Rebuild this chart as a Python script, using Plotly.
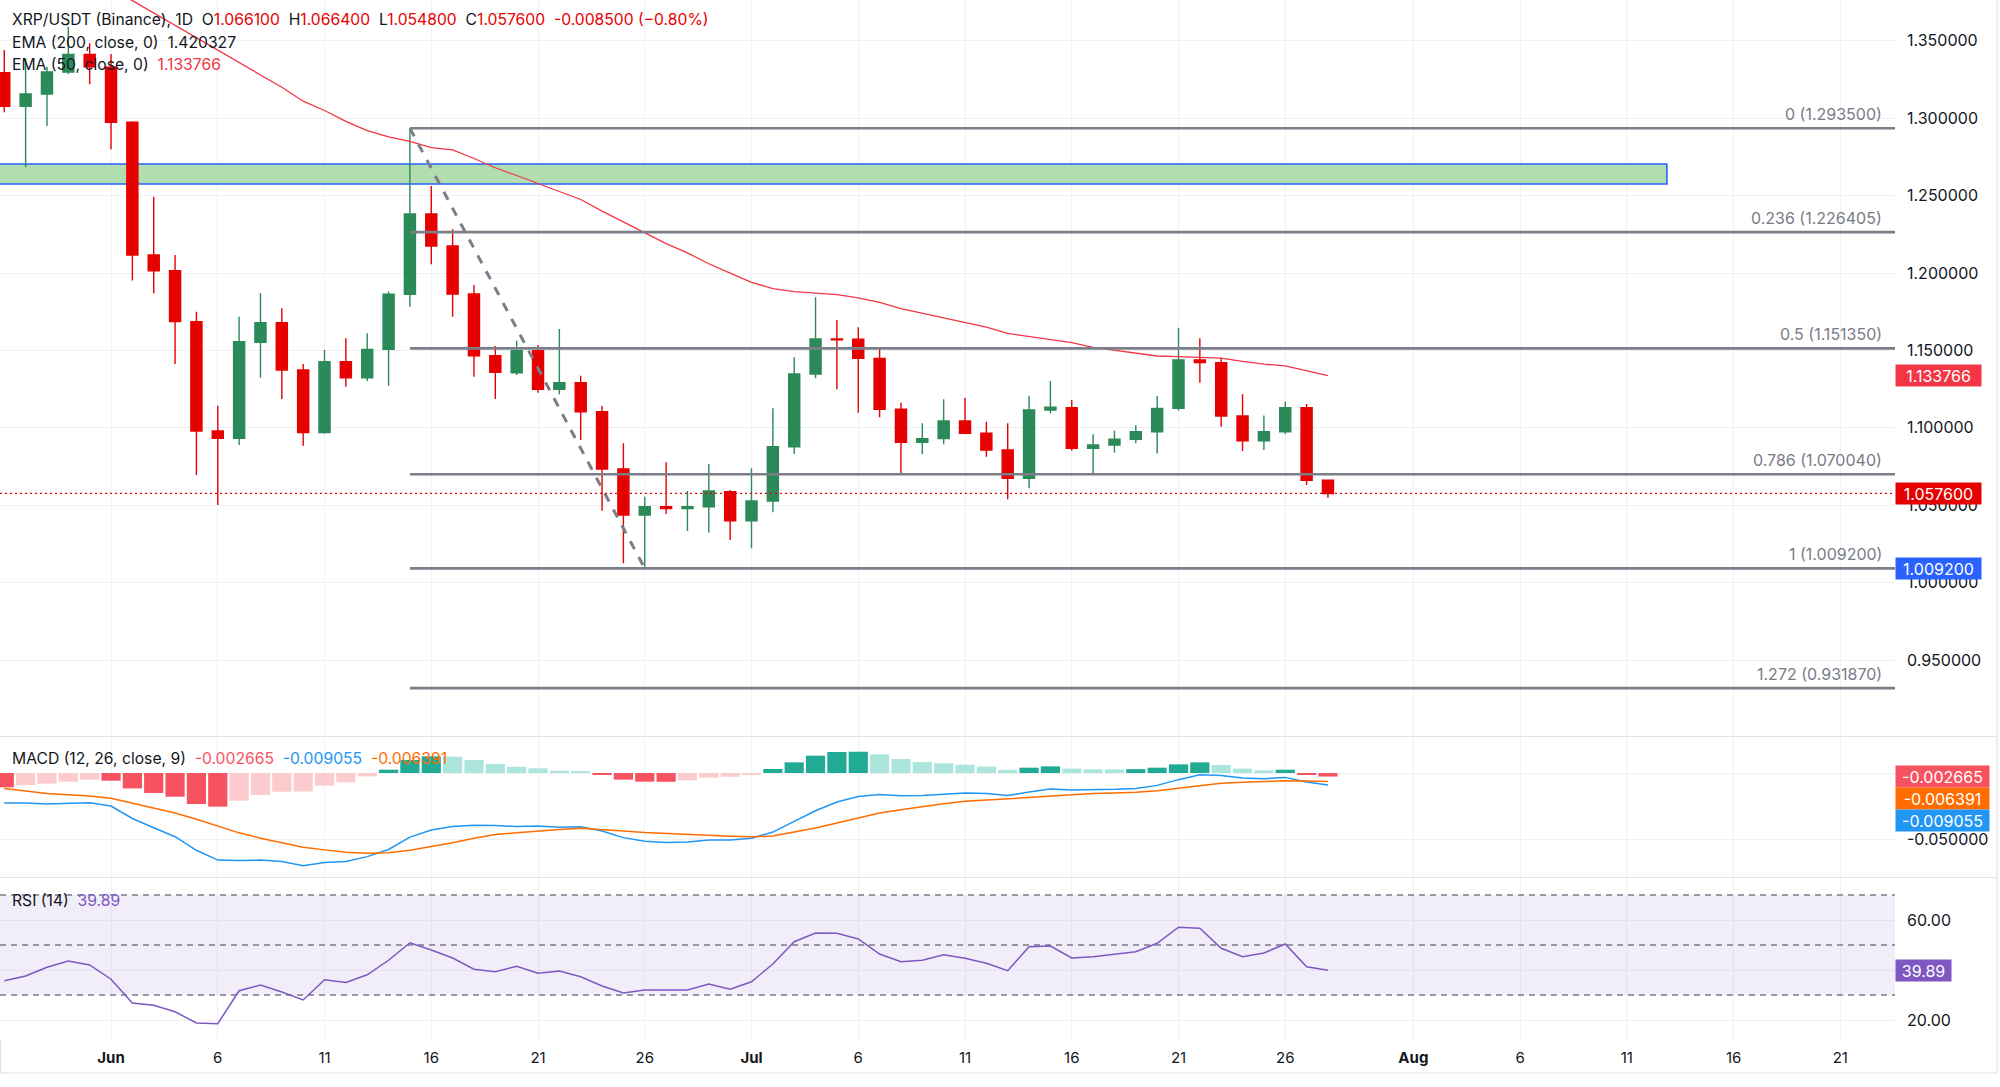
import pandas as pd
import plotly.graph_objects as go
from plotly.subplots import make_subplots

W, H = 2000, 1087

# ---------------- data ----------------
DATES = pd.date_range("2024-05-27", "2024-07-28", freq="D")

OPEN = [1.3294, 1.3077, 1.3157, 1.3299, 1.3412, 1.3329, 1.2974, 1.2117, 1.2015, 1.1686,
        1.0980, 1.0932, 1.1553, 1.1679, 1.1374, 1.0969, 1.1427, 1.1324, 1.1507, 1.1863,
        1.2381, 1.2175, 1.1865, 1.1466, 1.1356, 1.1498, 1.1249, 1.1292, 1.1104, 1.0734,
        1.0437, 1.0491, 1.0478, 1.0490, 1.0588, 1.0400, 1.0527, 1.0878, 1.1348, 1.1574,
        1.1572, 1.1449, 1.1120, 1.0907, 1.0930, 1.1044, 1.0965, 1.0857, 1.0674, 1.1115,
        1.1130, 1.0868, 1.0889, 1.0926, 1.0975, 1.1126, 1.1438, 1.1421, 1.1076, 1.0917,
        1.0975, 1.1130, 1.0661]
HIGH = [1.3441, 1.3387, 1.3333, 1.3591, 1.3484, 1.3415, 1.2980, 1.2493, 1.2117, 1.1750,
        1.1143, 1.1718, 1.1869, 1.1772, 1.1412, 1.1503, 1.1578, 1.1611, 1.1880, 1.2935,
        1.2562, 1.2283, 1.1923, 1.1529, 1.1563, 1.1535, 1.1638, 1.1337, 1.1141, 1.0900,
        1.0555, 1.0777, 1.0592, 1.0767, 1.0598, 1.0739, 1.1126, 1.1456, 1.1843, 1.1697,
        1.1649, 1.1514, 1.1162, 1.1029, 1.1184, 1.1195, 1.1040, 1.1029, 1.1208, 1.1303,
        1.1180, 1.0958, 1.0982, 1.1016, 1.1206, 1.1647, 1.1578, 1.1453, 1.1217, 1.1080,
        1.1169, 1.1154, 1.0664]
LOW = [1.3038, 1.2683, 1.2950, 1.3285, 1.3219, 1.2799, 1.1951, 1.1869, 1.1412, 1.0695,
       1.0502, 1.0889, 1.1324, 1.1186, 1.0885, 1.0962, 1.1266, 1.1303, 1.1272, 1.1783,
       1.2056, 1.1718, 1.1330, 1.1186, 1.1341, 1.1227, 1.1217, 1.0921, 1.0465, 1.0125,
       1.0092, 1.0443, 1.0334, 1.0323, 1.0276, 1.0222, 1.0454, 1.0831, 1.1320, 1.1249,
       1.1098, 1.1068, 1.0695, 1.0829, 1.0894, 1.0963, 1.0814, 1.0538, 1.0609, 1.1093,
       1.0852, 1.0702, 1.0839, 1.0900, 1.0835, 1.1111, 1.1292, 1.1007, 1.0851, 1.0857,
       1.0958, 1.0631, 1.0548]
CLOSE = [1.3077, 1.3157, 1.3299, 1.3412, 1.3333, 1.2974, 1.2117, 1.2015, 1.1686, 1.0980,
         1.0932, 1.1556, 1.1679, 1.1374, 1.0969, 1.1427, 1.1324, 1.1507, 1.1863, 1.2381,
         1.2175, 1.1865, 1.1466, 1.1359, 1.1498, 1.1249, 1.1292, 1.1104, 1.0734, 1.0437,
         1.0491, 1.0478, 1.0490, 1.0592, 1.0400, 1.0527, 1.0878, 1.1348, 1.1574, 1.1568,
         1.1449, 1.1120, 1.0907, 1.0930, 1.1044, 1.0965, 1.0857, 1.0674, 1.1115, 1.1133,
         1.0868, 1.0889, 1.0926, 1.0975, 1.1126, 1.1438, 1.1421, 1.1076, 1.0917, 1.0975,
         1.1130, 1.0661, 1.0576]

EMA50 = [1.395, 1.393, 1.390, 1.388, 1.386, 1.3836, 1.376, 1.368, 1.360, 1.352,
         1.344, 1.336, 1.328, 1.320, 1.311, 1.305, 1.298, 1.292, 1.288, 1.285,
         1.281, 1.2795, 1.274, 1.268, 1.263, 1.258, 1.253, 1.2475, 1.240, 1.233,
         1.226, 1.219, 1.213, 1.206, 1.200, 1.194, 1.190, 1.188, 1.187, 1.186,
         1.184, 1.181, 1.177, 1.174, 1.171, 1.168, 1.165, 1.161, 1.159, 1.157,
         1.155, 1.152, 1.150, 1.148, 1.1464, 1.146, 1.1457, 1.145, 1.143, 1.1412,
         1.140, 1.137, 1.133766]
EMA200_LAST = 1.420327

MACD_HIST = [-0.0108, -0.0090, -0.0080, -0.0065, -0.0050, -0.0058, -0.0116, -0.0150, -0.0178, -0.0233,
             -0.0253, -0.0208, -0.0165, -0.0141, -0.0139, -0.0095, -0.0070, -0.0025, 0.0025, 0.0098,
             0.0125, 0.0123, 0.0098, 0.0068, 0.0047, 0.0035, 0.0017, 0.0012, -0.0012, -0.0050,
             -0.0065, -0.0066, -0.0055, -0.0035, -0.0028, -0.0011, 0.0030, 0.0080, 0.0130, 0.0158,
             0.0160, 0.0140, 0.0105, 0.0082, 0.0073, 0.0063, 0.0048, 0.0023, 0.0040, 0.0050,
             0.0033, 0.0028, 0.0027, 0.0029, 0.0040, 0.0065, 0.0080, 0.0060, 0.0033, 0.0020,
             0.0025, -0.0008, -0.002665]
MACD_LINE = [-0.0225, -0.0226, -0.0234, -0.0228, -0.0223, -0.0248, -0.0342, -0.0412, -0.0479, -0.0581,
             -0.0655, -0.0658, -0.0655, -0.0666, -0.0697, -0.0673, -0.0665, -0.0629, -0.0575, -0.0482,
             -0.0428, -0.0402, -0.0393, -0.0395, -0.0402, -0.0399, -0.0407, -0.0404, -0.0436, -0.0486,
             -0.0513, -0.0522, -0.0518, -0.0504, -0.0503, -0.0490, -0.0444, -0.0364, -0.0284, -0.0218,
             -0.0176, -0.0161, -0.0171, -0.0169, -0.0158, -0.0150, -0.0155, -0.0170, -0.0143, -0.0120,
             -0.0127, -0.0127, -0.0123, -0.0116, -0.0093, -0.0050, -0.0013, -0.0018, -0.0037, -0.0043,
             -0.0033, -0.0068, -0.009055]
MACD_SIGNAL = [-0.0117, -0.0136, -0.0154, -0.0163, -0.0173, -0.0190, -0.0226, -0.0262, -0.0301, -0.0348,
               -0.0402, -0.0450, -0.0490, -0.0525, -0.0558, -0.0578, -0.0595, -0.0604, -0.0600, -0.0580,
               -0.0553, -0.0525, -0.0491, -0.0463, -0.0449, -0.0434, -0.0424, -0.0416, -0.0424, -0.0436,
               -0.0448, -0.0456, -0.0463, -0.0469, -0.0475, -0.0479, -0.0474, -0.0444, -0.0414, -0.0376,
               -0.0336, -0.0301, -0.0276, -0.0251, -0.0231, -0.0213, -0.0203, -0.0193, -0.0183, -0.0170,
               -0.0160, -0.0155, -0.0150, -0.0145, -0.0133, -0.0115, -0.0093, -0.0078, -0.0070, -0.0063,
               -0.0058, -0.0060, -0.006391]
RSI = [35.7, 37.6, 41.1, 43.6, 42.0, 36.3, 26.8, 25.9, 23.3, 18.8,
       18.5, 31.7, 34.0, 31.2, 28.0, 36.1, 35.0, 38.1, 43.9, 50.9,
       48.0, 44.8, 40.3, 39.3, 41.5, 38.7, 39.6, 37.3, 33.6, 30.8,
       32.0, 31.9, 32.0, 34.4, 32.3, 35.3, 42.4, 51.3, 54.8, 54.7,
       52.4, 46.4, 43.3, 43.9, 46.1, 44.7, 42.7, 39.7, 49.3, 49.6,
       44.8, 45.3, 46.3, 47.3, 50.7, 57.1, 56.7, 48.7, 45.3, 46.8,
       50.4, 41.3, 39.89]

FIB_LEVELS = ["0", "0.236", "0.5", "0.786", "1", "1.272"]
FIB_PRICES = [1.2935, 1.226405, 1.15135, 1.07004, 1.0092, 0.93187]
SWING_HIGH_DATE, SWING_HIGH = "2024-06-15", 1.2935
SWING_LOW_DATE, SWING_LOW = "2024-06-26", 1.0092
ZONE_LOW, ZONE_HIGH = 1.2575, 1.2704
ZONE_START, ZONE_END = "2024-05-15", "2024-08-12 21:00"

TICK_DATES = ["2024-06-01", "2024-06-06", "2024-06-11", "2024-06-16", "2024-06-21", "2024-06-26",
              "2024-07-01", "2024-07-06", "2024-07-11", "2024-07-16", "2024-07-21", "2024-07-26",
              "2024-08-01", "2024-08-06", "2024-08-11", "2024-08-16", "2024-08-21"]
TICK_TEXT = ["<b>Jun</b>", "6", "11", "16", "21", "26", "<b>Jul</b>", "6", "11", "16", "21", "26",
             "<b>Aug</b>", "6", "11", "16", "21"]
PRICE_TICKS = [0.95, 1.00, 1.05, 1.10, 1.15, 1.20, 1.25, 1.30, 1.35]
MACD_TICKS = [-0.05, 0.0]
MACD_TICK_TEXT = ["-0.050000", ""]
RSI_TICKS = [20, 40, 60]
RSI_TICK_TEXT = ["20.00", "", "60.00"]
RSI_BANDS = [30, 50, 70]

# ---------------- style ----------------
FONT = "Inter"
TXT = "#131722"
GRID = "#f0f1f5"
UP, DOWN = "#2b8a57", "#e60000"
SEP = "#e0e3eb"
XR = ["2024-05-26 19:12", "2024-08-23 13:26"]
PX = 1895 / W


def py(ypx):
    return 1 - ypx / H


fig = make_subplots(rows=3, cols=1, shared_xaxes=True, vertical_spacing=0)

fig.add_trace(go.Candlestick(
    x=DATES, open=OPEN, high=HIGH, low=LOW, close=CLOSE,
    increasing=dict(line=dict(color=UP, width=1.4), fillcolor=UP),
    decreasing=dict(line=dict(color=DOWN, width=1.4), fillcolor=DOWN),
    whiskerwidth=0, hoverinfo="skip"), row=1, col=1)
fig.add_trace(go.Scatter(x=DATES, y=EMA50, mode="lines",
                         line=dict(color="#f23645", width=1.3), hoverinfo="skip"), row=1, col=1)

hist_colors = []
for i, v in enumerate(MACD_HIST):
    prev = MACD_HIST[i - 1] if i > 0 else None
    if v >= 0:
        hist_colors.append("#22ab94" if prev is None or v >= prev else "#ace5dc")
    else:
        hist_colors.append("#f7525f" if prev is None or v <= prev else "#fccbcd")

fig.add_trace(go.Bar(x=DATES, y=MACD_HIST, marker=dict(color=hist_colors, line=dict(width=0)),
                     hoverinfo="skip"), row=2, col=1)
fig.add_trace(go.Scatter(x=DATES, y=MACD_LINE, mode="lines",
                         line=dict(color="#2196f3", width=1.5), hoverinfo="skip"), row=2, col=1)
fig.add_trace(go.Scatter(x=DATES, y=MACD_SIGNAL, mode="lines",
                         line=dict(color="#ff6d00", width=1.5), hoverinfo="skip"), row=2, col=1)
fig.add_trace(go.Scatter(x=DATES, y=RSI, mode="lines",
                         line=dict(color="#7e57c2", width=1.5), hoverinfo="skip"), row=3, col=1)

xcommon = dict(range=XR, domain=[0, PX], tickvals=TICK_DATES, ticktext=TICK_TEXT,
               showgrid=True, gridcolor=GRID, gridwidth=1, zeroline=False, showline=False,
               ticks="", rangeslider=dict(visible=False))
fig.update_xaxes(**xcommon)
fig.update_xaxes(showticklabels=False, row=1, col=1)
fig.update_xaxes(showticklabels=False, row=2, col=1)
fig.update_xaxes(showticklabels=True, tickfont=dict(family=FONT, size=15, color=TXT),
                 ticklabelstandoff=7, row=3, col=1)

ycommon = dict(side="right", showgrid=True, gridcolor=GRID, zeroline=False, showline=False,
               ticks="", ticklabelstandoff=11, tickfont=dict(family=FONT, size=16, color=TXT))
fig.update_yaxes(**ycommon)
fig.update_yaxes(domain=[py(736), 1], range=[0.90093, 1.37638], tickvals=PRICE_TICKS,
                 ticktext=[f"{v:.6f}" for v in PRICE_TICKS], row=1, col=1)
fig.update_yaxes(domain=[py(877), py(737)], range=[-0.0782, 0.02707], tickvals=MACD_TICKS,
                 ticktext=MACD_TICK_TEXT, row=2, col=1)
fig.update_yaxes(domain=[py(1040), py(878)], range=[12.0, 76.8], tickvals=RSI_TICKS,
                 ticktext=RSI_TICK_TEXT, row=3, col=1)

shapes = []
# support zone
shapes.append(dict(type="rect", xref="x", yref="y", x0=ZONE_START, x1=ZONE_END,
                   y0=ZONE_LOW, y1=ZONE_HIGH, fillcolor="#b2ddb1",
                   line=dict(color="#2962ff", width=1.6), layer="between"))
# fib lines
for p in FIB_PRICES:
    shapes.append(dict(type="line", xref="x", yref="y", x0=SWING_HIGH_DATE, x1=XR[1],
                       y0=p, y1=p, line=dict(color="#7b7e89", width=2.6), layer="above"))
# dashed swing line
shapes.append(dict(type="line", xref="x", yref="y", x0=SWING_HIGH_DATE, y0=SWING_HIGH,
                   x1=SWING_LOW_DATE, y1=SWING_LOW,
                   line=dict(color="#7b7e89", width=3, dash="9px,9px"), layer="above"))
# last price dotted line
shapes.append(dict(type="line", xref="x", yref="y", x0=XR[0], x1=XR[1], y0=CLOSE[-1], y1=CLOSE[-1],
                   line=dict(color=DOWN, width=1.2, dash="2px,3px"), layer="above"))
# RSI band
shapes.append(dict(type="rect", xref="x3", yref="y3", x0=XR[0], x1=XR[1],
                   y0=RSI_BANDS[0], y1=RSI_BANDS[2], fillcolor="rgba(126,87,194,0.10)",
                   line=dict(width=0), layer="between"))
for b in RSI_BANDS:
    shapes.append(dict(type="line", xref="x3", yref="y3", x0=XR[0], x1=XR[1], y0=b, y1=b,
                       line=dict(color="#787b86", width=1.3, dash="6px,5px"), layer="between"))
# pane separators & borders
for ypx in (736.5, 877.5, 1073):
    shapes.append(dict(type="line", xref="paper", yref="paper", x0=0, x1=0.9985,
                       y0=py(ypx), y1=py(ypx), line=dict(color=SEP, width=1.2)))
shapes.append(dict(type="line", xref="paper", yref="paper", x0=0.9985, x1=0.9985,
                   y0=py(1073), y1=1, line=dict(color=SEP, width=1.2)))
shapes.append(dict(type="line", xref="paper", yref="paper", x0=0.0003, x1=0.0003,
                   y0=py(1073), y1=py(1040), line=dict(color=SEP, width=1.2)))

ann = []
# fib labels
for lvl, p in zip(FIB_LEVELS, FIB_PRICES):
    ann.append(dict(xref="paper", yref="y", x=1884 / W, y=p, xanchor="right", yanchor="bottom",
                    yshift=2, text=f"{lvl} ({p:.6f})", showarrow=False,
                    font=dict(family=FONT, size=16, color="#787b86")))


def badge(yref, y, text, color, width, yshift=0):
    return dict(xref="paper", yref=yref, x=PX, y=y, xanchor="left", yanchor="middle",
                yshift=yshift, text=text, showarrow=False, bgcolor=color, width=width,
                height=18, borderpad=1.5, align="center", valign="middle",
                font=dict(family=FONT, size=16, color="white"))


ann.append(badge("y", EMA50[-1], f"{EMA50[-1]:.6f}", "#f23645", 82))
ann.append(badge("y", CLOSE[-1], f"{CLOSE[-1]:.6f}", DOWN, 82))
ann.append(badge("y", FIB_PRICES[4], f"{FIB_PRICES[4]:.6f}", "#2962ff", 82))
ann.append(badge("y2", MACD_HIST[-1], f"{MACD_HIST[-1]:.6f}", "#f7525f", 90))
ann.append(badge("y2", MACD_HIST[-1], f"{MACD_SIGNAL[-1]:.6f}", "#ff6d00", 90, yshift=-22))
ann.append(badge("y2", MACD_HIST[-1], f"{MACD_LINE[-1]:.6f}", "#2196f3", 90, yshift=-44))
ann.append(badge("y3", RSI[-1], f"{RSI[-1]:.2f}", "#7e57c2", 52))

# legends / headers
S = "\u00a0"
chg = CLOSE[-1] - CLOSE[-2]
pct = chg / CLOSE[-2] * 100
red = "#e60000"


def c(t, col):
    return f'<span style="color:{col}">{t}</span>'


line1 = (f"XRP/USDT (Binance), 1D{S}{S}O{c(f'{OPEN[-1]:.6f}', red)}{S}{S}"
         f"H{c(f'{HIGH[-1]:.6f}', red)}{S}{S}L{c(f'{LOW[-1]:.6f}', red)}{S}{S}"
         f"C{c(f'{CLOSE[-1]:.6f}', red)}{S}{S}"
         f"{c(f'{chg:.6f} (−{abs(pct):.2f}%)', red)}")
line2 = f"EMA (200, close, 0){S}{S}{c(f'{EMA200_LAST:.6f}', TXT)}"
line3 = f"EMA (50, close, 0){S}{S}{c(f'{EMA50[-1]:.6f}', '#f23645')}"
line4 = (f"MACD (12, 26, close, 9){S}{S}{c(f'{MACD_HIST[-1]:.6f}', '#f7525f')}{S}{S}"
         f"{c(f'{MACD_LINE[-1]:.6f}', '#2196f3')}{S}{S}{c(f'{MACD_SIGNAL[-1]:.6f}', '#ff6d00')}")
line5 = f"RSI (14){S}{S}{c(f'{RSI[-1]:.2f}', '#7e57c2')}"

for txt, ypx in ((line1, 20), (line2, 42), (line3, 65), (line4, 758), (line5, 900)):
    ann.append(dict(xref="paper", yref="paper", x=10 / W, y=py(ypx), xanchor="left",
                    yanchor="middle", text=txt, showarrow=False,
                    font=dict(family=FONT, size=15.7, color=TXT)))

fig.update_layout(
    width=W, height=H, margin=dict(l=0, r=0, t=0, b=0),
    paper_bgcolor="white", plot_bgcolor="white", showlegend=False,
    hovermode=False, boxgap=0.26, bargap=0.1,
    font=dict(family=FONT, size=16, color=TXT),
    shapes=shapes, annotations=ann,
)

fig.write_html("out.html")
